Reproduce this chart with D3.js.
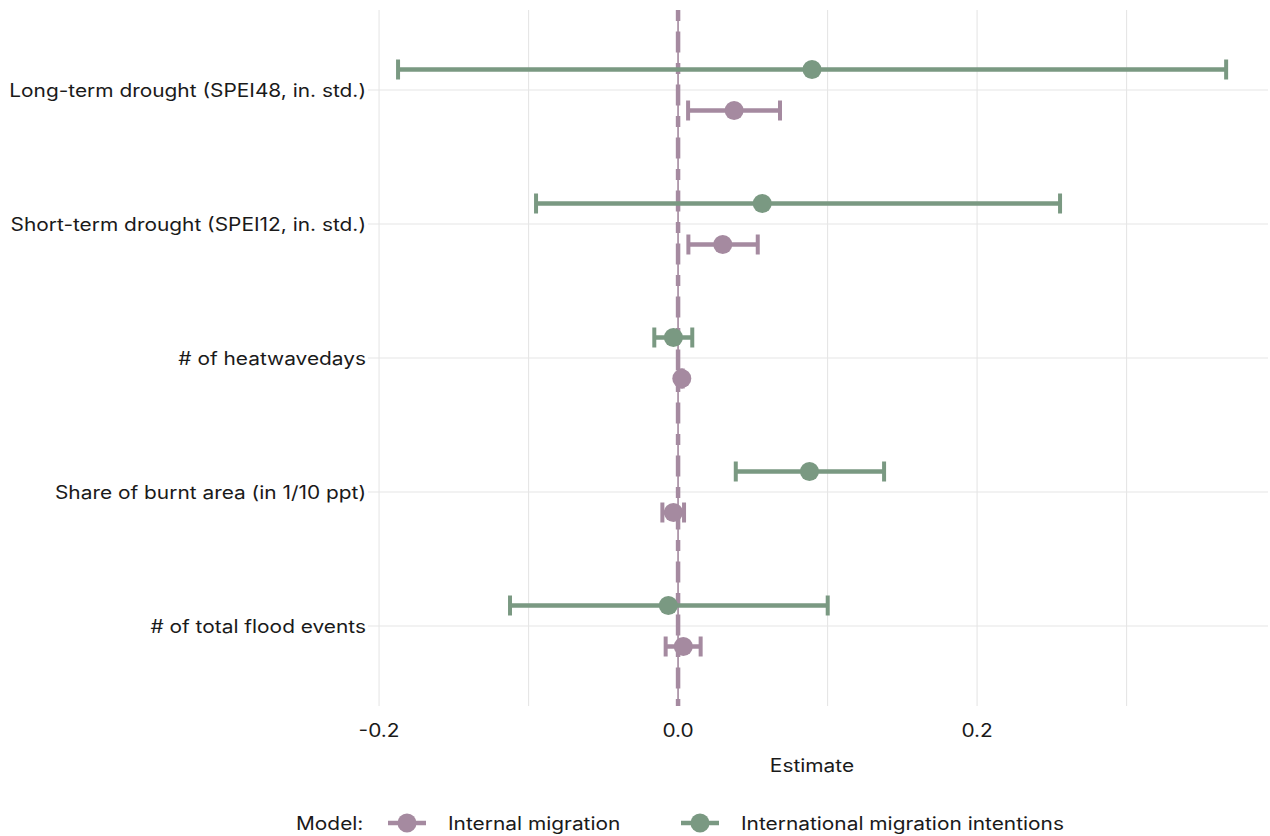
<!DOCTYPE html>
<html>
<head>
<meta charset="utf-8">
<script src="https://cdn.jsdelivr.net/npm/d3@7"></script>
<style>
  body { margin: 0; background: #fff; }
  text { font-family: Inter, "Noto Sans", sans-serif; fill: #1a1a1a; font-size: 18px; }
  .grid line { stroke: #e6e6e6; stroke-width: 1.1; }
</style>
</head>
<body>
<script>
// Categories (top to bottom)
var terms = ["Long-term drought (SPEI48, in. std.)",
             "Short-term drought (SPEI12, in. std.)",
             "# of heatwavedays",
             "Share of burnt area (in 1/10 ppt)",
             "# of total flood events"];

// Internal migration: estimate, lower, upper
var internalEst = [0.0375, 0.0299, 0.0025, -0.0031, 0.0035];
var internalLow = [0.0067, 0.0069, 0.0019, -0.0105, -0.0083];
var internalHigh = [0.0682, 0.0533, 0.0031, 0.0040, 0.0151];

// International migration intentions
var intlEst = [0.0896, 0.0563, -0.0031, 0.0879, -0.0065];
var intlLow = [-0.1873, -0.0950, -0.0159, 0.0386, -0.1124];
var intlHigh = [0.3666, 0.2555, 0.0095, 0.1378, 0.1001];

var models = ["Internal migration", "International migration intentions"];
var majorTicks = [-0.2, 0.0, 0.2];
var tickLabels = ["-0.2", "0.0", "0.2"];
var minorTicks = [-0.1, 0.1, 0.3];

var colors = {"Internal migration": "#a58aa0", "International migration intentions": "#7a9982"};

var W = 1270, H = 836;
var panel = {left: 368, right: 1268, top: 10, bottom: 706};
var stretch = 1.16; // text in the picture is a bit wider than Inter

var svg = d3.select("body").append("svg")
    .attr("width", W)
    .attr("height", H);

// place a text with its own horizontal stretch
function placeText(sel, fx, fy) {
    sel.attr("transform", function(d, i) {
        return "translate(" + fx(d, i) + "," + fy(d, i) + ") scale(" + stretch + ",1)";
    });
}

var x = d3.scaleLinear()
    .domain([-0.2074, 0.3946])
    .range([panel.left, panel.right]);

var y = d3.scalePoint()
    .domain(terms)
    .range([90, 626]);

var dodge = d3.scalePoint()
    .domain(["International migration intentions", "Internal migration"])
    .range([-20.5, 20.5]);

// rows of data
var rows = [];
terms.forEach(function(t, i) {
    rows.push({term: t, model: models[0], est: internalEst[i], lo: internalLow[i], hi: internalHigh[i]});
    rows.push({term: t, model: models[1], est: intlEst[i], lo: intlLow[i], hi: intlHigh[i]});
});

// Gridlines
var grid = svg.append("g").attr("class", "grid");
grid.selectAll(".vx")
    .data(majorTicks.concat(minorTicks))
    .enter().append("line")
    .attr("x1", function(d) { return x(d); })
    .attr("x2", function(d) { return x(d); })
    .attr("y1", panel.top)
    .attr("y2", panel.bottom);
grid.selectAll(".hy")
    .data(terms)
    .enter().append("line")
    .attr("x1", panel.left)
    .attr("x2", panel.right)
    .attr("y1", function(d) { return y(d); })
    .attr("y2", function(d) { return y(d); });

// Axis text
svg.append("g").selectAll("text")
    .data(terms)
    .enter().append("text")
    .attr("text-anchor", "end")
    .call(placeText, function() { return panel.left - 2; }, function(d) { return y(d) + 6.5; })
    .text(function(d) { return d; });

svg.append("g").selectAll("text")
    .data(majorTicks)
    .enter().append("text")
    .attr("text-anchor", "middle")
    .call(placeText, function(d) { return x(d); }, function() { return 737; })
    .text(function(d, i) { return tickLabels[i]; });

svg.append("text")
    .datum("Estimate")
    .attr("text-anchor", "middle")
    .call(placeText, function() { return 812; }, function() { return 772; })
    .text("Estimate");

// Zero reference line
svg.append("line")
    .attr("x1", x(0)).attr("x2", x(0))
    .attr("y1", panel.top).attr("y2", panel.bottom)
    .attr("stroke", colors["Internal migration"])
    .attr("stroke-width", 1.6);

svg.append("line")
    .attr("x1", x(0)).attr("x2", x(0))
    .attr("y1", panel.top).attr("y2", panel.bottom)
    .attr("stroke", colors["Internal migration"])
    .attr("stroke-width", 4.5)
    .attr("stroke-dasharray", "11,10.5,21,10.5");

// Error bars
var bars = svg.append("g").selectAll("g")
    .data(rows)
    .enter().append("g")
    .attr("transform", function(d) { return "translate(0," + (y(d.term) + dodge(d.model)) + ")"; })
    .attr("stroke", function(d) { return colors[d.model]; })
    .attr("fill", function(d) { return colors[d.model]; });

bars.append("line")
    .attr("x1", function(d) { return x(d.lo); })
    .attr("x2", function(d) { return x(d.hi); })
    .attr("stroke-width", 4.5);

bars.append("line")
    .attr("x1", function(d) { return x(d.lo); })
    .attr("x2", function(d) { return x(d.lo); })
    .attr("y1", -10).attr("y2", 10)
    .attr("stroke-width", 4);

bars.append("line")
    .attr("x1", function(d) { return x(d.hi); })
    .attr("x2", function(d) { return x(d.hi); })
    .attr("y1", -10).attr("y2", 10)
    .attr("stroke-width", 4);

bars.append("circle")
    .attr("cx", function(d) { return x(d.est); })
    .attr("r", 9.5)
    .attr("stroke", "none");

// Legend
var legend = svg.append("g");
legend.append("text")
    .datum("Model:")
    .call(placeText, function() { return 296; }, function() { return 830; })
    .text("Model:");

var keyX = {"Internal migration": 388, "International migration intentions": 681};
var keys = legend.selectAll(".key")
    .data(models)
    .enter().append("g")
    .attr("transform", function(d) { return "translate(" + keyX[d] + ",823)"; });

keys.append("line")
    .attr("x1", 0).attr("x2", 38)
    .attr("stroke", function(d) { return colors[d]; })
    .attr("stroke-width", 4.5);

keys.append("circle")
    .attr("cx", 19)
    .attr("r", 9.5)
    .attr("fill", function(d) { return colors[d]; });

keys.append("text")
    .call(placeText, function() { return 60; }, function() { return 7; })
    .text(function(d) { return d; });
</script>
</body>
</html>
